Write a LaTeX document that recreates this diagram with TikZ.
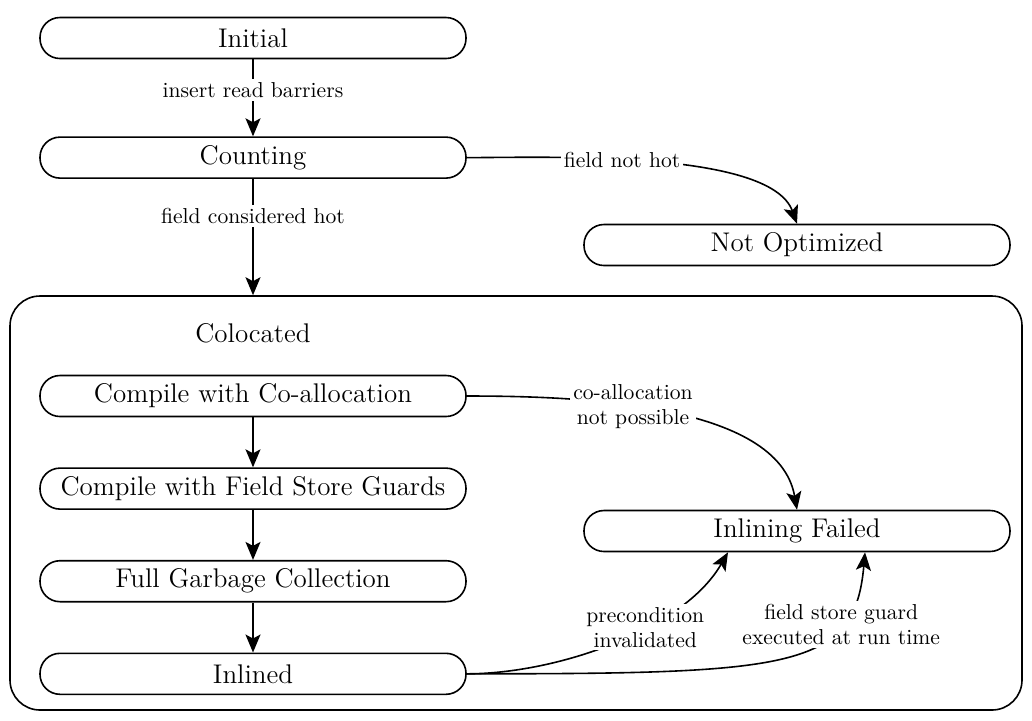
\documentclass[tikz,border=0pt]{standalone}
\usepackage{fontspec}
\usetikzlibrary{arrows.meta, positioning}

\begin{document}
\begin{tikzpicture}[
    x=0.5pt, y=0.5pt,
    node distance=25pt,
    state/.style={draw, rectangle, rounded corners=10pt, minimum width=213pt, minimum height=20.5pt, align=center, font=\fontsize{13.5}{16}\selectfont, line width=0.8pt},
    group/.style={draw, rectangle, rounded corners=15pt, minimum width=506pt, minimum height=207pt, line width=0.8pt},
    edgelabel/.style={fill=white, align=center, font=\fontsize{10.8}{12.5}\selectfont, inner sep=1.5pt},
    arrow/.style={-{Stealth[length=9pt, width=7.5pt, inset=2pt]}, line width=0.8pt}
]
\useasboundingbox (0,0) rectangle (1032,-720);

% Nodes
\node[state] (initial) at (253,-38) {Initial};
\node[state, below=38.5pt of initial] (counting) {Counting};
\node[state] (notopt) at (797,-245) {Not Optimized};
\node[group] (colocated) at (516,-503) {};
\node[font=\fontsize{13.5}{16}\selectfont] (colocatedtitle) at (253,-333) {Colocated};
\node[state] (compile) at (253,-396) {Compile with Co-allocation};
\node[state, below=of compile] (guards) {Compile with Field Store Guards};
\node[state, below=of guards] (fullgc) {Full Garbage Collection};
\node[state, below=of fullgc] (inlined) {Inlined};
\node[state] (inlfail) at (797,-531) {Inlining Failed};

% Connections
\draw[arrow] (initial) -- node[edgelabel, pos=0.4] {insert read barriers} (counting);
\draw[arrow] (counting.east) to[out=0, in=110, looseness=0.6] node[edgelabel, pos=0.43] {field not hot} (notopt.north);
\draw[arrow] (counting) -- node[edgelabel, pos=0.32] {field considered hot} (counting |- colocated.north);
\draw[arrow] (compile) -- (guards);
\draw[arrow] (guards) -- (fullgc);
\draw[arrow] (fullgc) -- (inlined);
\draw[arrow] (compile.east) to[out=0, in=100, looseness=0.8] node[edgelabel, pos=0.42] {co-allocation\\not possible} (inlfail.north);
\draw[arrow] (inlined.east) to[out=0, in=-120, looseness=0.8] node[edgelabel, pos=0.61] {precondition\\invalidated} ([xshift=-34.5pt]inlfail.south);
\draw[arrow] (inlined.east) to[out=0, in=-95, out looseness=2, in looseness=0.72] node[edgelabel, pos=0.73] {field store guard\\executed at run time} ([xshift=34pt]inlfail.south);

\end{tikzpicture}
\end{document}
